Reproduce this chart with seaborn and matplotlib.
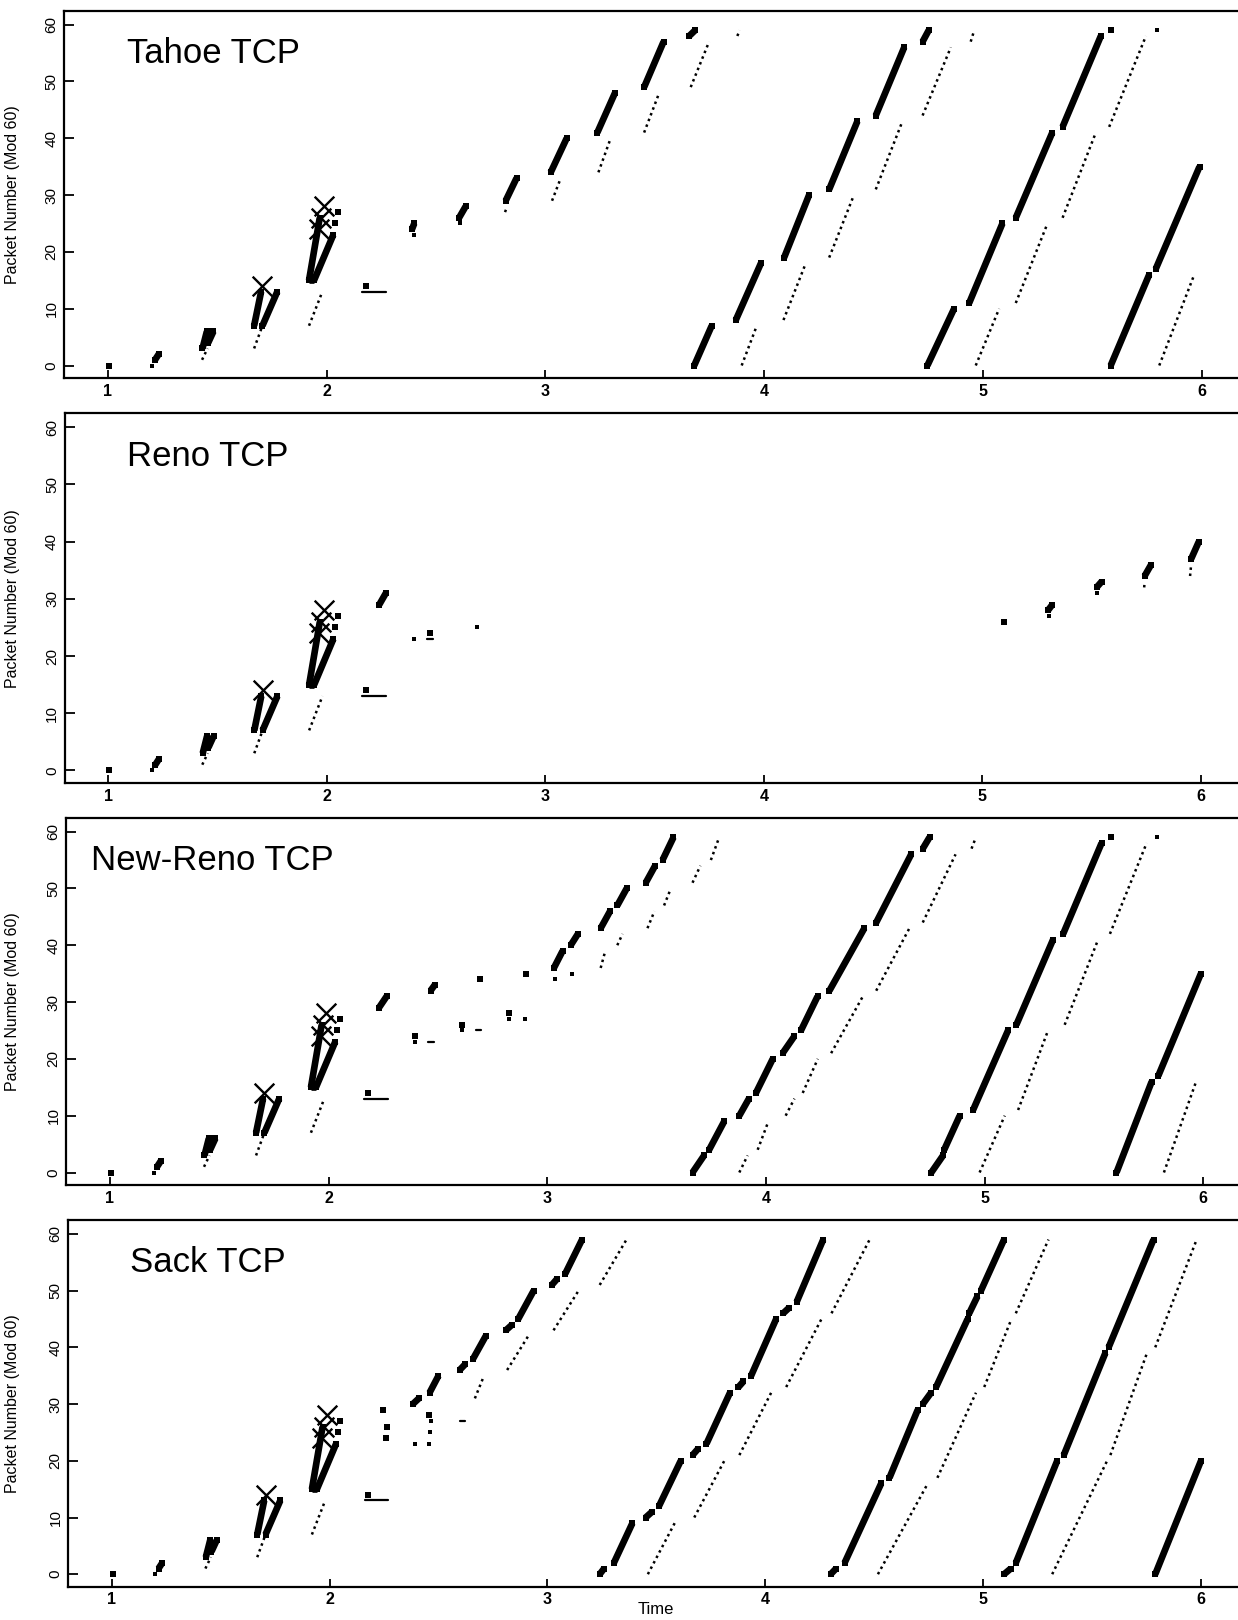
import matplotlib
matplotlib.use('Agg')
import matplotlib.pyplot as plt
import seaborn as sns
import pandas as pd

# ---- data: (t0, p0, t1, p1) segments ----
# common slow-start part, identical in all four runs
start_bursts = [(1.215, 1, 1.232, 2), (1.432, 3, 1.452, 6), (1.458, 4, 1.482, 6),
                (1.668, 7, 1.700, 13), (1.706, 7, 1.774, 13),
                (1.919, 15, 1.968, 26), (1.919, 15, 1.942, 15), (1.942, 15, 2.030, 23)]
start_acks = [(1.430, 1, 1.455, 3), (1.668, 3, 1.706, 7), (1.919, 7, 1.980, 13)]
start_pkts = [(1.005, 0), (2.037, 25), (2.050, 27), (2.178, 14)]
start_ackdots = [(1.200, 0)]
start_dupacks = [(2.163, 2.270, 13)]
drops = [(1.706, 14), (1.965, 24), (1.973, 26), (1.988, 28)]

tahoe_bursts = [(2.390, 24, 2.400, 25), (2.605, 26, 2.635, 28), (2.818, 29, 2.868, 33),
                (3.024, 34, 3.097, 40), (3.237, 41, 3.318, 48), (3.451, 49, 3.540, 57),
                (3.657, 58, 3.684, 59), (3.680, 0, 3.760, 7), (3.870, 8, 3.985, 18),
                (4.091, 19, 4.205, 30), (4.297, 31, 4.426, 43), (4.510, 44, 4.640, 56),
                (4.724, 57, 4.752, 59), (4.746, 0, 4.868, 10), (4.937, 11, 5.089, 25),
                (5.150, 26, 5.317, 41), (5.364, 42, 5.539, 58), (5.584, 0, 5.760, 16),
                (5.790, 17, 5.990, 35)]
tahoe_acks = [(2.815, 27, 2.825, 28), (3.030, 29, 3.070, 33), (3.242, 34, 3.298, 40),
              (3.451, 41, 3.520, 48), (3.664, 49, 3.748, 57), (3.877, 58, 3.888, 59),
              (3.897, 0, 3.966, 7), (4.088, 8, 4.190, 18), (4.297, 19, 4.410, 30),
              (4.510, 31, 4.632, 43), (4.724, 44, 4.853, 56), (4.944, 57, 4.960, 59),
              (4.967, 0, 5.074, 10), (5.150, 11, 5.295, 25), (5.364, 26, 5.516, 41),
              (5.577, 42, 5.745, 58), (5.806, 0, 5.966, 16)]
tahoe_pkts = [(5.584, 59)]
tahoe_ackdots = [(2.400, 23), (2.610, 25), (5.795, 59)]
tahoe_dupacks = []

reno_bursts = [(2.240, 29, 2.270, 31), (5.300, 28, 5.320, 29), (5.522, 32, 5.545, 33),
               (5.742, 34, 5.772, 36), (5.955, 37, 5.990, 40)]
reno_acks = [(5.740, 32, 5.742, 33), (5.950, 34, 5.955, 36)]
reno_pkts = [(2.470, 24), (5.100, 26)]
reno_ackdots = [(2.400, 23), (2.686, 25), (5.305, 27), (5.525, 31)]
reno_dupacks = [(2.460, 2.485, 23)]

newreno_bursts = [(2.230, 29, 2.265, 31), (2.466, 32, 2.485, 33), (3.030, 36, 3.070, 39),
                  (3.107, 40, 3.140, 42), (3.244, 43, 3.287, 46), (3.320, 47, 3.363, 50),
                  (3.450, 51, 3.493, 54), (3.527, 55, 3.577, 59),
                  (3.664, 0, 3.717, 3), (3.740, 4, 3.809, 9), (3.878, 10, 3.922, 13),
                  (3.954, 14, 4.031, 20), (4.076, 21, 4.130, 24), (4.160, 25, 4.236, 31),
                  (4.290, 32, 4.450, 43), (4.504, 44, 4.664, 56), (4.717, 57, 4.748, 59),
                  (4.756, 0, 4.810, 3), (4.815, 4, 4.886, 10), (4.947, 11, 5.107, 25),
                  (5.145, 26, 5.313, 41), (5.359, 42, 5.535, 58), (5.603, 0, 5.764, 16),
                  (5.794, 17, 5.989, 35)]
newreno_acks = [(3.244, 36, 3.265, 39), (3.320, 40, 3.344, 42), (3.458, 43, 3.490, 46),
                (3.534, 47, 3.565, 50), (3.664, 51, 3.700, 54), (3.748, 55, 3.786, 59),
                (3.878, 0, 3.916, 3), (3.962, 4, 4.011, 9), (4.090, 10, 4.130, 13),
                (4.168, 14, 4.237, 20), (4.298, 21, 4.443, 31), (4.504, 32, 4.656, 43),
                (4.717, 44, 4.867, 56), (4.940, 57, 4.960, 59), (4.977, 0, 5.092, 10),
                (5.153, 11, 5.290, 25), (5.366, 26, 5.519, 41), (5.573, 42, 5.741, 58),
                (5.820, 0, 5.967, 16)]
newreno_pkts = [(2.397, 24), (2.610, 26), (2.691, 34), (2.824, 28), (2.904, 35), (5.580, 59)]
newreno_ackdots = [(2.397, 23), (2.610, 25), (2.824, 27), (2.900, 27), (3.033, 34),
                   (3.115, 35), (5.790, 59)]
newreno_dupacks = [(2.455, 2.480, 23), (2.672, 2.695, 25)]

sack_bursts = [(2.382, 30, 2.410, 31), (2.459, 32, 2.500, 35), (2.597, 36, 2.622, 37),
               (2.659, 38, 2.717, 42), (2.809, 43, 2.838, 44), (2.866, 45, 2.937, 50),
               (3.020, 51, 3.043, 52), (3.082, 53, 3.159, 59),
               (3.240, 0, 3.260, 1), (3.305, 2, 3.390, 9), (3.451, 10, 3.480, 11),
               (3.512, 12, 3.612, 20), (3.666, 21, 3.689, 22), (3.730, 23, 3.838, 32),
               (3.877, 33, 3.900, 34), (3.935, 35, 4.050, 45), (4.082, 46, 4.110, 47),
               (4.144, 48, 4.266, 59), (4.300, 0, 4.325, 1), (4.364, 2, 4.532, 16),
               (4.570, 17, 4.700, 29), (4.723, 30, 4.761, 32), (4.784, 33, 4.929, 45),
               (4.936, 46, 4.974, 49), (4.990, 50, 5.096, 59), (5.096, 0, 5.127, 1),
               (5.150, 2, 5.340, 20), (5.370, 21, 5.561, 39), (5.576, 40, 5.782, 59),
               (5.790, 0, 6.000, 20)]
sack_acks = [(2.667, 31, 2.709, 35), (2.815, 36, 2.912, 42), (3.028, 43, 3.143, 50),
             (3.240, 51, 3.363, 59), (3.461, 0, 3.584, 9), (3.674, 10, 3.812, 20),
             (3.881, 21, 4.027, 32), (4.096, 33, 4.258, 45), (4.304, 46, 4.479, 59),
             (4.517, 0, 4.746, 16), (4.790, 17, 4.967, 32), (5.005, 33, 5.130, 45),
             (5.150, 46, 5.300, 59), (5.317, 0, 5.569, 20), (5.584, 21, 5.752, 39),
             (5.790, 40, 5.980, 59)]
sack_pkts = [(2.245, 29), (2.263, 26), (2.260, 24), (2.456, 28)]
sack_ackdots = [(2.394, 23), (2.456, 23), (2.466, 27), (2.459, 25)]
sack_dupacks = [(2.600, 2.620, 27)]

panel_names = ["Tahoe TCP", "Reno TCP", "New-Reno TCP", "Sack TCP"]
panel_data = [
    (tahoe_bursts, tahoe_acks, tahoe_pkts, tahoe_ackdots, tahoe_dupacks),
    (reno_bursts, reno_acks, reno_pkts, reno_ackdots, reno_dupacks),
    (newreno_bursts, newreno_acks, newreno_pkts, newreno_ackdots, newreno_dupacks),
    (sack_bursts, sack_acks, sack_pkts, sack_ackdots, sack_dupacks),
]
time_ticks = [1, 2, 3, 4, 5, 6]
packet_ticks = [0, 10, 20, 30, 40, 50, 60]

# ---- layout (pixels of the 1238x1620 target) ----
W, H = 1238, 1620
tops = [10.7, 413.3, 817.7, 1220]
bottoms = [378, 783, 1185, 1586.7]
tick1_px = [108, 108.3, 110, 111.7]
tick6_px = [1201.7, 1201, 1203.3, 1201]
XLIM = (0.8, 6.17)
YLIM = (-2.2, 62.45)


def seg_frame(segs):
    rows = []
    for i, (t0, p0, t1, p1) in enumerate(segs):
        rows.append((i, t0, p0))
        rows.append((i, t1, p1))
    return pd.DataFrame(rows, columns=["seg", "t", "p"])


def draw_segments(ax, segs, **kws):
    if not segs:
        return
    sns.lineplot(data=seg_frame(segs), x="t", y="p", units="seg", estimator=None,
                 sort=False, color="black", legend=False, ax=ax, **kws)


def draw_points(ax, pts, **kws):
    if not pts:
        return
    df = pd.DataFrame(pts, columns=["t", "p"])
    sns.scatterplot(data=df, x="t", y="p", color="black", edgecolor="black",
                    legend=False, ax=ax, **kws)


sns.set_style("ticks")
plt.rcParams['font.family'] = ['Liberation Sans', 'DejaVu Sans']
plt.rcParams.update({"text.color": "black", "axes.labelcolor": "black",
                     "xtick.color": "black", "ytick.color": "black",
                     "axes.edgecolor": "black"})

fig = plt.figure(figsize=(W / 100, H / 100), dpi=100)

for k, name in enumerate(panel_names):
    s = (tick6_px[k] - tick1_px[k]) / 5.0
    left = tick1_px[k] - (1 - XLIM[0]) * s
    width = (XLIM[1] - XLIM[0]) * s
    ax = fig.add_axes([left / W, 1 - bottoms[k] / H, width / W, (bottoms[k] - tops[k]) / H])

    bursts, acks, pkts, ackdots, dupacks = panel_data[k]

    # packet bursts: thick strokes with square packet ends
    draw_segments(ax, start_bursts + bursts, lw=4.8, solid_capstyle="butt",
                  marker="s", markersize=4.9, markeredgewidth=0)
    # acks: one dot per packet
    draw_segments(ax, start_acks + acks, lw=1.8, linestyle=(0, (1, 1.45)),
                  dash_capstyle="butt")
    dup = [(a, p, b, p) for a, b, p in start_dupacks + dupacks]
    draw_segments(ax, dup, lw=1.6)
    draw_points(ax, start_pkts + pkts, marker="s", s=22, linewidth=0)
    draw_points(ax, start_ackdots + ackdots, marker="s", s=5, linewidth=0)
    draw_points(ax, drops, marker="x", s=200, linewidth=1.7)

    ax.text(1.085 if k != 2 else 0.915, 53.2, name, fontsize=25, color="black",
            ha="left", va="baseline")

    ax.set_xlim(*XLIM)
    ax.set_ylim(*YLIM)
    ax.set_xticks(time_ticks)
    ax.set_yticks(packet_ticks)
    ax.set_xticklabels([str(v) for v in time_ticks], fontsize=11.5, fontweight="bold")
    ax.set_yticklabels([str(v) for v in packet_ticks], fontsize=11, rotation=90,
                       va="center")
    ax.tick_params(axis="x", direction="in", length=6, width=1.3, pad=4, colors="black")
    ax.tick_params(axis="y", direction="in", length=7, width=1.3, pad=4, colors="black")
    for side in ["left", "bottom", "top"]:
        ax.spines[side].set_linewidth(1.6)
        ax.spines[side].set_color("black")
    ax.spines["right"].set_visible(False)
    ax.set_xlabel("")
    ax.set_ylabel("Packet Number (Mod 60)", fontsize=11.5, color="black")
    ax.yaxis.set_label_coords((20 - left) / width, 0.5)

fig.text(656 / W, 1 - 1610 / H, "Time", ha="center", va="center", fontsize=12,
         color="black")

plt.savefig("out.png", dpi=100)
plt.close()
